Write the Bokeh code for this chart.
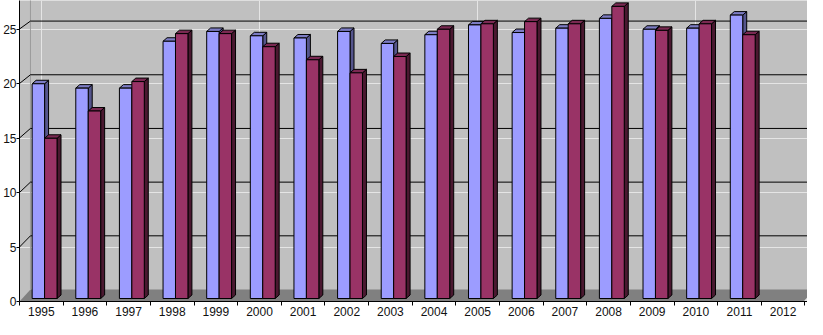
from bokeh.plotting import figure
from bokeh.models import Range1d, FixedTicker, LinearAxis
from bokeh.embed import file_html
from bokeh.resources import INLINE

# ---- data ----
years = [str(y) for y in range(1995, 2013)]
series_blue = [19.7, 19.3, 19.3, 23.6, 24.5, 24.1, 23.9, 24.5, 23.4, 24.2,
               25.1, 24.4, 24.8, 25.7, 24.7, 24.8, 26.0, None]
series_maroon = [14.7, 17.2, 19.9, 24.3, 24.3, 23.1, 21.9, 20.7, 22.2, 24.7,
                 25.2, 25.4, 25.2, 26.8, 24.6, 25.2, 24.2, None]
y_ticks = [0, 5, 10, 15, 20, 25]

# ---- layout (pixels) ----
W, H = 807, 319
BL, BB = 16, 18
FW, FH = W - BL, H - BB
PXC = 43.8   # px per category
PXU = 10.9   # px per unit
n = len(years)

xr0 = -0.5
p = figure(width=W, height=H, output_backend="svg", toolbar_location=None,
           x_range=Range1d(xr0, xr0 + FW / PXC), y_range=Range1d(0, FH / PXU),
           min_border_left=BL, min_border_bottom=BB, min_border_top=0,
           min_border_right=0, x_axis_location=None, y_axis_location=None)
p.background_fill_color = "#C0C0C0"
p.border_fill_color = "white"
p.outline_line_color = None

# 3D offsets in data units
wdx = 11 / PXC
floor_back = 12 / PXU
back_scale = 0.985
x_end = xr0 + FW / PXC + 1

def back_y(v):
    return floor_back + v * back_scale

# floor
p.patch([xr0, xr0 + n, xr0 + n + wdx, xr0 + wdx],
        [0, 0, floor_back, floor_back], fill_color="#808080", line_color=None)
p.segment(x0=[xr0 + n], y0=[0], x1=[xr0 + n + wdx], y1=[floor_back],
          line_color="#E6E6E6", line_width=2)
# back wall left edge
p.segment(x0=[xr0 + wdx], y0=[floor_back], x1=[xr0 + wdx], y1=[40],
          line_color="#9A9A9A", line_width=1)
# gridlines (back wall + side wall)
gv = [v for v in y_ticks if v > 0]
p.segment(x0=[xr0 + wdx] * len(gv), y0=[back_y(v) for v in gv],
          x1=[x_end] * len(gv), y1=[back_y(v) for v in gv],
          line_color="black", line_width=1)
p.segment(x0=[xr0] * len(gv), y0=gv,
          x1=[xr0 + wdx] * len(gv), y1=[back_y(v) for v in gv],
          line_color="black", line_width=1)

# bars
bdx = 4 / PXC
bdy = 3.5 / PXU
yb = 3 / PXU

def draw_series(vals, xl_off, xr_off, front, top, side):
    sx, sy, tx, ty, fl, fr, ft = [], [], [], [], [], [], []
    for i, v in enumerate(vals):
        if v is None:
            continue
        xl = i - 0.5 + xl_off
        xr = i - 0.5 + xr_off
        yt = yb + v
        sx.append([xr, xr + bdx, xr + bdx, xr])
        sy.append([yb, yb + bdy, yt + bdy, yt])
        tx.append([xl, xr, xr + bdx, xl + bdx])
        ty.append([yt, yt, yt + bdy, yt + bdy])
        fl.append(xl); fr.append(xr); ft.append(yt)
    p.patches(sx, sy, fill_color=side, line_color="black", line_width=1)
    p.patches(tx, ty, fill_color=top, line_color="black", line_width=1)
    p.quad(left=fl, right=fr, bottom=yb, top=ft, fill_color=front,
           line_color="black", line_width=1)

draw_series(series_blue, 0.29, 0.575, "#9C9CFF", "#7C7CC4", "#55558C")
draw_series(series_maroon, 0.575, 0.86, "#993366", "#7A2952", "#4A1830")

# axes
yaxis = LinearAxis(ticker=FixedTicker(ticks=y_ticks))
yaxis.axis_line_color = "black"
yaxis.major_tick_out = 3
yaxis.major_tick_in = 0
yaxis.minor_tick_line_color = None
yaxis.major_label_standoff = 0
yaxis.major_label_text_font = "Liberation Sans"
yaxis.major_label_text_font_size = "12px"
yaxis.major_label_text_color = "#111111"
p.add_layout(yaxis, "left")

xaxis = LinearAxis(ticker=FixedTicker(ticks=list(range(n)),
                                      minor_ticks=[i - 0.5 for i in range(n + 1)]),
                   major_label_overrides={i: years[i] for i in range(n)})
xaxis.axis_line_color = "black"
xaxis.major_tick_line_color = None
xaxis.major_tick_out = 4
xaxis.major_tick_in = 0
xaxis.minor_tick_line_color = "black"
xaxis.minor_tick_out = 4
xaxis.minor_tick_in = 0
xaxis.major_label_standoff = 1
xaxis.major_label_text_font = "Liberation Sans"
xaxis.major_label_text_font_size = "12px"
xaxis.major_label_text_color = "#111111"
p.add_layout(xaxis, "below")

open("out.html", "w").write(file_html(p, INLINE))
